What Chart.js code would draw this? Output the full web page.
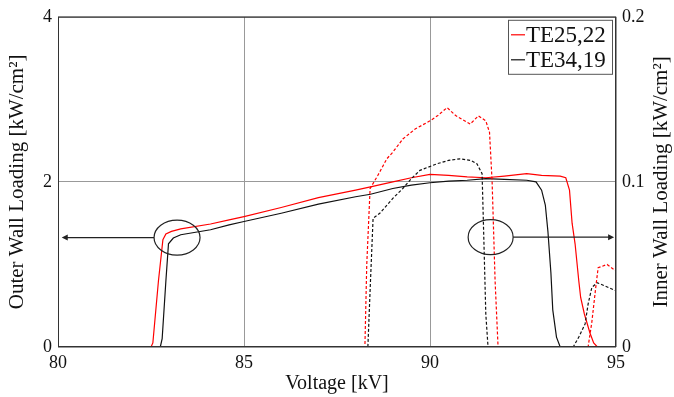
<!DOCTYPE html>
<html>
<head>
<meta charset="utf-8">
<script src="https://cdn.jsdelivr.net/npm/chart.js@4.4.0/dist/chart.umd.min.js"></script>
<style>
  html, body { margin: 0; padding: 0; background: #fff; }
</style>
</head>
<body>
<canvas id="chart" width="674" height="397"></canvas>
<script>
// Outer wall loading [kW/cm2] vs voltage [kV]
const voltOuter25 = [80, 82.5, 82.55, 82.7, 82.82, 82.9, 83.05, 83.3, 84.1, 84.6, 85, 86, 87, 88, 88.4, 89, 89.5, 90, 90.5, 91, 91.5, 92, 92.6, 93, 93.5, 93.65, 93.75, 93.82, 93.9, 94.0, 94.05, 94.15, 94.3, 94.4, 94.5, 95];
const outer25 = [0, 0, 0.05, 0.8, 1.3, 1.37, 1.4, 1.43, 1.49, 1.54, 1.58, 1.69, 1.81, 1.9, 1.94, 2.0, 2.05, 2.09, 2.08, 2.06, 2.05, 2.07, 2.1, 2.08, 2.07, 2.05, 1.9, 1.5, 1.25, 0.8, 0.6, 0.4, 0.17, 0.05, 0, 0];

const voltOuter34 = [80, 82.75, 82.8, 82.9, 82.97, 83.1, 83.3, 84.1, 84.6, 85, 86, 87, 88, 88.4, 89, 89.5, 90, 90.5, 91, 91.5, 92, 92.6, 92.85, 93.0, 93.1, 93.17, 93.25, 93.3, 93.4, 93.5, 95];
const outer34 = [0, 0, 0.1, 0.8, 1.25, 1.32, 1.36, 1.42, 1.48, 1.52, 1.62, 1.73, 1.82, 1.85, 1.92, 1.96, 1.99, 2.01, 2.02, 2.04, 2.03, 2.02, 2.0, 1.9, 1.72, 1.4, 0.9, 0.45, 0.12, 0, 0];

// Inner wall loading [kW/cm2] vs voltage [kV]
const voltInner25 = [80, 88.25, 88.3, 88.39, 88.6, 88.84, 89.0, 89.27, 89.6, 90, 90.2, 90.46, 90.7, 91.08, 91.3, 91.5, 91.6, 91.67, 91.75, 91.83, 94.25, 94.35, 94.45, 94.52, 94.76, 95];
const inner25 = [0, 0, 0.05, 0.096, 0.104, 0.114, 0.118, 0.126, 0.132, 0.137, 0.14, 0.145, 0.14, 0.135, 0.14, 0.137, 0.13, 0.1, 0.04, 0, 0, 0.015, 0.035, 0.048, 0.05, 0.046];

const voltInner34 = [80, 88.33, 88.4, 88.47, 88.65, 89, 89.27, 89.5, 89.73, 90.19, 90.5, 90.81, 91.1, 91.26, 91.4, 91.43, 91.5, 91.56, 93.85, 94.0, 94.17, 94.25, 94.35, 94.49, 94.7, 95];
const inner34 = [0, 0, 0.04, 0.078, 0.081, 0.09, 0.096, 0.102, 0.107, 0.111, 0.113, 0.114, 0.113, 0.111, 0.105, 0.08, 0.02, 0, 0, 0.006, 0.014, 0.026, 0.036, 0.039, 0.037, 0.034];

const seriesNames = ['TE25,22', 'TE34,19'];
const xTicks = [80, 85, 90, 95];
const leftTicks = [0, 2, 4];
const rightTicks = [0, 0.1, 0.2];

const RED = '#ff0000';
const BLACK = '#111111';
const SERIF = '"Liberation Serif", "Times New Roman", serif';

Chart.defaults.font.family = SERIF;
Chart.defaults.color = '#111';

const pts = (xs, ys) => xs.map((x, i) => ({ x, y: ys[i] }));

// frame, ellipses with arrows, legend, right axis title
const overlay = {
  id: 'overlay',
  afterDatasetsDraw(chart) {
    const { ctx, chartArea: a, scales: { x, y } } = chart;
    ctx.save();
    ctx.strokeStyle = '#333';
    ctx.lineWidth = 1;
    ctx.strokeRect(a.left + 0.5, a.top + 0.5, a.width - 1, a.height - 1);

    function arrowHead(px, py, dir) {
      ctx.beginPath();
      ctx.moveTo(px, py);
      ctx.lineTo(px - dir * 6, py - 3);
      ctx.lineTo(px - dir * 6, py + 3);
      ctx.closePath();
      ctx.fill();
    }
    ctx.strokeStyle = '#222';
    ctx.fillStyle = '#222';
    ctx.lineWidth = 1.2;

    // left ellipse -> points to left axis
    let cx = x.getPixelForValue(83.2), cy = y.getPixelForValue(1.325);
    ctx.beginPath();
    ctx.ellipse(cx, cy, 23, 17.5, 0, 0, Math.PI * 2);
    ctx.stroke();
    let tip = x.getPixelForValue(80.1);
    ctx.beginPath();
    ctx.moveTo(cx - 23, cy);
    ctx.lineTo(tip + 4, cy);
    ctx.stroke();
    arrowHead(tip, cy, -1);

    // right ellipse -> points to right axis
    cx = x.getPixelForValue(91.63); cy = y.getPixelForValue(1.33);
    ctx.beginPath();
    ctx.ellipse(cx, cy, 22.5, 17.5, 0, 0, Math.PI * 2);
    ctx.stroke();
    tip = x.getPixelForValue(94.95);
    ctx.beginPath();
    ctx.moveTo(cx + 22.5, cy);
    ctx.lineTo(tip - 4, cy);
    ctx.stroke();
    arrowHead(tip, cy, 1);

    // legend
    const lx = a.right - 108, ly = a.top + 3, lw = 104, lh = 54;
    ctx.fillStyle = '#fff';
    ctx.fillRect(lx, ly, lw, lh);
    ctx.strokeStyle = '#555';
    ctx.lineWidth = 1;
    ctx.strokeRect(lx + 0.5, ly + 0.5, lw, lh);
    ctx.font = '23px ' + SERIF;
    ctx.textBaseline = 'middle';
    ctx.textAlign = 'left';
    [RED, BLACK].forEach((c, i) => {
      const yy = ly + 15 + i * 25;
      ctx.strokeStyle = c;
      ctx.lineWidth = 1.2;
      ctx.beginPath();
      ctx.moveTo(lx + 3, yy);
      ctx.lineTo(lx + 17, yy);
      ctx.stroke();
      ctx.fillStyle = '#111';
      ctx.fillText(seriesNames[i], lx + 18, yy + 1);
    });

    // right axis title, reads bottom to top like the left one
    ctx.translate(661, (a.top + a.bottom) / 2);
    ctx.rotate(-Math.PI / 2);
    ctx.textAlign = 'center';
    ctx.font = '21px ' + SERIF;
    ctx.fillText('Inner Wall Loading [kW/cm\u00b2]', 0, 0);
    ctx.restore();
  }
};

const lineSet = (label, data, color, dashed, axis) => ({
  label,
  data,
  yAxisID: axis,
  borderColor: color,
  borderWidth: 1.2,
  borderDash: dashed ? [3, 2] : [],
  pointRadius: 0,
  tension: 0,
  fill: false
});

new Chart(document.getElementById('chart'), {
  type: 'line',
  data: {
    datasets: [
      lineSet(seriesNames[0] + ' inner', pts(voltInner25, inner25), RED, true, 'y2'),
      lineSet(seriesNames[1] + ' inner', pts(voltInner34, inner34), BLACK, true, 'y2'),
      lineSet(seriesNames[1], pts(voltOuter34, outer34), BLACK, false, 'y'),
      lineSet(seriesNames[0], pts(voltOuter25, outer25), RED, false, 'y')
    ]
  },
  options: {
    responsive: false,
    animation: false,
    layout: { padding: { top: 15, right: 0, left: 0, bottom: 0 } },
    plugins: { legend: { display: false }, tooltip: { enabled: false } },
    scales: {
      x: {
        type: 'linear',
        min: 80, max: 95,
        afterBuildTicks: s => { s.ticks = xTicks.map(v => ({ value: v })); },
        afterFit: s => { s.height = 50; },
        grid: { color: '#999', lineWidth: 1, drawTicks: false },
        border: { display: false },
        ticks: { font: { size: 18 }, padding: 5, color: '#111', maxRotation: 0 },
        title: { display: true, text: 'Voltage [kV]', font: { size: 20 }, padding: { top: 0, bottom: 1 }, color: '#111' }
      },
      y: {
        position: 'left',
        min: 0, max: 4,
        afterBuildTicks: s => { s.ticks = leftTicks.map(v => ({ value: v })); },
        afterFit: s => { s.width = 58; },
        grid: { color: '#999', lineWidth: 1, drawTicks: false },
        border: { display: false },
        ticks: { font: { size: 18 }, padding: 6, color: '#111' },
        title: { display: true, text: 'Outer Wall Loading [kW/cm\u00b2]', font: { size: 21 }, padding: { top: 5, bottom: 0 }, color: '#111' }
      },
      y2: {
        position: 'right',
        min: 0, max: 0.2,
        afterBuildTicks: s => { s.ticks = rightTicks.map(v => ({ value: v })); },
        afterFit: s => { s.width = 58; },
        grid: { display: false, drawTicks: false },
        border: { display: false },
        ticks: { font: { size: 18 }, padding: 6, color: '#111' }
      }
    }
  },
  plugins: [overlay]
});
</script>
</body>
</html>
